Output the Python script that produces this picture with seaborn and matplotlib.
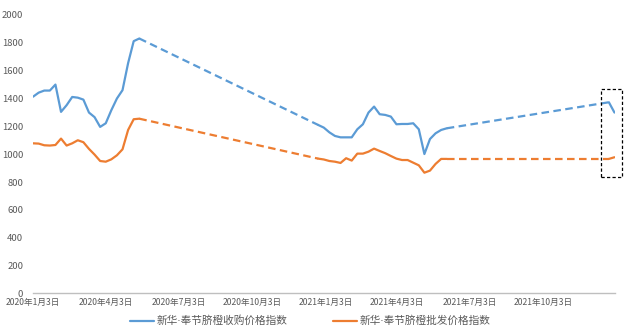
import numpy as np
import pandas as pd
import matplotlib
matplotlib.use("Agg")
import matplotlib.pyplot as plt
import matplotlib.dates as mdates
from matplotlib.lines import Line2D
from matplotlib.patches import Rectangle
import seaborn as sns

# Weekly index values, three observed stretches per series
seg_starts = ["2020-01-03", "2020-12-25", "2021-12-24"]

purchase_1 = [1413, 1442, 1457, 1457, 1500, 1304, 1352, 1411, 1406, 1392,
              1299, 1266, 1196, 1222, 1316, 1400, 1460, 1654, 1812, 1831]
purchase_2 = [1210, 1191, 1157, 1131, 1121, 1121, 1121, 1179, 1215, 1299,
              1342, 1287, 1282, 1270, 1215, 1217, 1217, 1222, 1179, 1001,
              1109, 1150, 1174, 1186]
purchase_3 = [1373, 1299]

wholesale_1 = [1078, 1076, 1064, 1062, 1066, 1112, 1062, 1078, 1100, 1086,
               1038, 997, 951, 946, 963, 992, 1035, 1174, 1251, 1255]
wholesale_2 = [968, 962, 951, 946, 937, 971, 954, 1004, 1004, 1018,
               1040, 1023, 1007, 987, 968, 958, 958, 939, 920, 867,
               882, 930, 966, 966]
wholesale_3 = [966, 978]

series_names = ["新华·奉节脐橙收购价格指数", "新华·奉节脐橙批发价格指数"]
series_colors = ["#5B9BD5", "#ED7D31"]

tick_dates = ["2020-01-03", "2020-04-03", "2020-07-03", "2020-10-03",
              "2021-01-03", "2021-04-03", "2021-07-03", "2021-10-03"]
y_ticks = list(range(0, 2001, 200))

# Build a long table: observed stretches are solid, gaps are bridged with dashes
rows = []
all_segments = {
    series_names[0]: [purchase_1, purchase_2, purchase_3],
    series_names[1]: [wholesale_1, wholesale_2, wholesale_3],
}
for name, segs in all_segments.items():
    prev_end = None
    for i, (start, vals) in enumerate(zip(seg_starts, segs)):
        dates = pd.date_range(start, periods=len(vals), freq="7D")
        for d, v in zip(dates, vals):
            rows.append(dict(date=d, value=v, series=name, kind="solid", unit=f"{name}-s{i}"))
        if prev_end is not None:
            for d, v in (prev_end, (dates[0], vals[0])):
                rows.append(dict(date=d, value=v, series=name, kind="dashed", unit=f"{name}-g{i}"))
        prev_end = (dates[-1], vals[-1])
df = pd.DataFrame(rows)

sns.set_style("white")
plt.rcParams["font.family"] = ["Noto Sans CJK SC", "DejaVu Sans"]

fig = plt.figure(figsize=(6.24, 3.33), dpi=100)
ax = fig.add_axes([0.053, 0.119, 0.933, 0.836])

sns.lineplot(data=df, x="date", y="value", hue="series", style="kind",
             units="unit", estimator=None, palette=series_colors,
             hue_order=series_names, style_order=["solid", "dashed"],
             dashes={"solid": "", "dashed": (3.4, 2.0)}, linewidth=1.6,
             legend=False, ax=ax)

ax.set_xlim(pd.Timestamp("2020-01-03"), pd.Timestamp("2022-01-01"))
ax.set_ylim(0, 2000)
ax.set_yticks(y_ticks)
ax.set_yticklabels([str(t) for t in y_ticks], fontsize=6.8, color="#595959")

tds = pd.to_datetime(tick_dates)
ax.set_xticks(tds)
ax.set_xticklabels([f"{d.year}年{d.month}月{d.day}日" for d in tds],
                   fontsize=6.2, color="#595959")
ax.tick_params(axis="both", length=0)
ax.tick_params(axis="y", pad=7)
ax.tick_params(axis="x", pad=3)
ax.set_xlabel("")
ax.set_ylabel("")

for s in ["top", "right", "left"]:
    ax.spines[s].set_visible(False)
ax.spines["bottom"].set_color("#BFBFBF")
ax.spines["bottom"].set_linewidth(1.0)

# Dashed frame highlighting the latest readings
box_x0 = mdates.date2num(pd.Timestamp("2021-12-14"))
box_x1 = mdates.date2num(pd.Timestamp("2022-01-10"))
ax.add_patch(Rectangle((box_x0, 834), box_x1 - box_x0, 1467 - 834,
                       fill=False, edgecolor="black", linewidth=0.9,
                       linestyle=(0, (2.6, 1.8)), clip_on=False, zorder=5))

handles = [Line2D([0], [0], color=c, lw=1.6) for c in series_colors]
leg = fig.legend(handles, series_names, loc="center",
                 bbox_to_anchor=(0.497, 0.036), ncol=2, frameon=False,
                 prop={"family": ["DejaVu Sans", "Noto Sans CJK SC"], "size": 7.7},
                 handlelength=2.25, handletextpad=0.3, columnspacing=4.2)
for t in leg.get_texts():
    t.set_color("#595959")

fig.savefig("out.png", dpi=100)
